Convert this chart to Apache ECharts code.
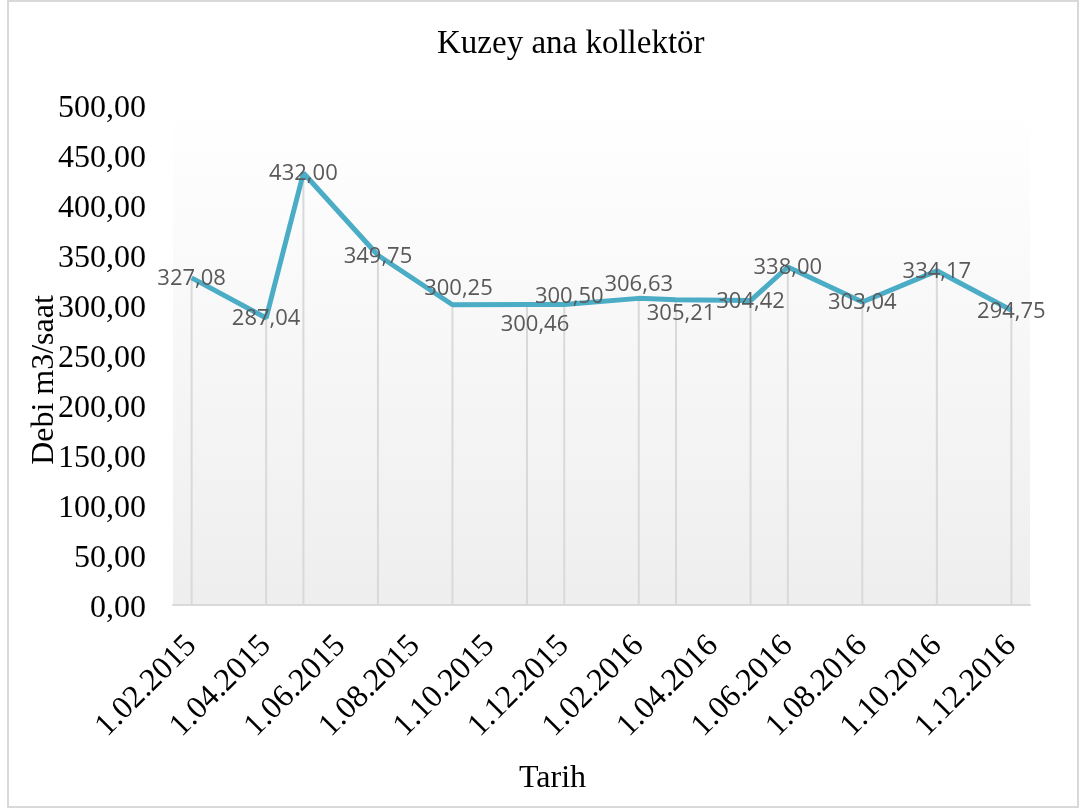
<!DOCTYPE html>
<html>
<head>
<meta charset="utf-8">
<script src="https://cdn.jsdelivr.net/npm/echarts@6/dist/echarts.min.js"></script>
<style>
  html, body { margin: 0; padding: 0; background: #fff; }
  #chart { width: 1086px; height: 811px; }
</style>
</head>
<body>
<div id="chart"></div>
<script>
// months from 1.02.2015 to 1.12.2016, null where there is no measurement
var months = [
    '1.02.2015', '1.03.2015', '1.04.2015', '1.05.2015', '1.06.2015', '1.07.2015',
    '1.08.2015', '1.09.2015', '1.10.2015', '1.11.2015', '1.12.2015', '1.01.2016',
    '1.02.2016', '1.03.2016', '1.04.2016', '1.05.2016', '1.06.2016', '1.07.2016',
    '1.08.2016', '1.09.2016', '1.10.2016', '1.11.2016', '1.12.2016'
];
var debi = [
    327.08, null, 287.04, 432.00, null, 349.75,
    null, 300.25, null, 300.46, 300.50, null,
    306.63, 305.21, null, 304.42, 338.00, null,
    303.04, null, 334.17, null, 294.75
];
var yTicks = [0, 500, 50];

// labels that Excel had nudged off their point (dx, dy)
var labelShift = {
    '1.09.2015': [6, -16],
    '1.11.2015': [8, 20],
    '1.12.2015': [5, -8],
    '1.02.2016': [0, -14],
    '1.03.2016': [5, 14]
};

var chart = echarts.init(document.getElementById('chart'));

function fmt(v){
    return Number(v).toFixed(2).replace('.', ',');
}

var serif = 'Liberation Serif, Times New Roman, serif';

var lineData = debi.map(function(v, i){
    var s = labelShift[months[i]] || [0, 1];
    return { value: v, label: { offset: s } };
});

var option = {
    animation: false,
    title: {
        text: 'Kuzey ana kollektör',
        left: 432,
        top: 23,
        textStyle: {
            fontFamily: serif,
            fontSize: 33,
            fontWeight: 'normal',
            color: '#000'
        }
    },
    graphic: [
        {
            type: 'rect',
            silent: true,
            shape: { x: 8, y: 1, width: 1070, height: 806 },
            style: { fill: 'none', stroke: '#d9d9d9', lineWidth: 2 }
        },
        {
            type: 'text',
            left: 519,
            top: 763,
            style: { text: 'Tarih', font: '32px ' + serif, fill: '#000' }
        },
        {
            type: 'text',
            x: 29,
            y: 380,
            rotation: Math.PI / 2,
            style: {
                text: 'Debi m3/saat', font: '32px ' + serif, fill: '#000',
                align: 'center', verticalAlign: 'top'
            }
        }
    ],
    grid: {
        left: 173,
        right: 56,
        top: 105,
        bottom: 206,
        show: true,
        borderWidth: 0,
        backgroundColor: {
            type: 'linear', x: 0, y: 0, x2: 0, y2: 1,
            colorStops: [
                { offset: 0, color: '#ffffff' },
                { offset: 0.13, color: '#fdfdfd' },
                { offset: 1, color: '#eeeeee' }
            ]
        }
    },
    xAxis: {
        type: 'category',
        data: months,
        boundaryGap: true,
        axisLine: { lineStyle: { color: '#d9d9d9', width: 2 } },
        axisTick: { show: false },
        axisLabel: {
            interval: 1,
            rotate: 45,
            margin: 36,
            fontFamily: serif,
            fontSize: 32,
            color: '#000'
        },
        splitLine: { show: false }
    },
    yAxis: {
        type: 'value',
        min: yTicks[0],
        max: yTicks[1],
        interval: yTicks[2],
        axisLine: { show: false },
        axisTick: { show: false },
        splitLine: { show: false },
        axisLabel: {
            margin: 27,
            fontFamily: serif,
            fontSize: 32,
            color: '#000',
            formatter: function(v){ return '{a|' + fmt(v) + '}'; },
            rich: {
                a: {
                    fontFamily: serif,
                    fontSize: 32,
                    color: '#000',
                    padding: [8, 0, 0, 0]
                }
            }
        }
    },
    series: [
        {
            // drop lines
            type: 'bar',
            data: debi,
            barWidth: 2,
            silent: true,
            itemStyle: { color: '#d9d9d9' },
            z: 1
        },
        {
            type: 'line',
            data: lineData,
            connectNulls: true,
            symbol: 'circle',
            symbolSize: 0,
            lineStyle: { color: '#4bacc6', width: 5 },
            itemStyle: { color: '#4bacc6' },
            label: {
                show: true,
                position: 'inside',
                fontFamily: 'Open Sans, sans-serif',
                fontSize: 22,
                color: '#595959',
                formatter: function(p){ return fmt(p.value); }
            },
            z: 3
        }
    ]
};

chart.setOption(option);
</script>
</body>
</html>
